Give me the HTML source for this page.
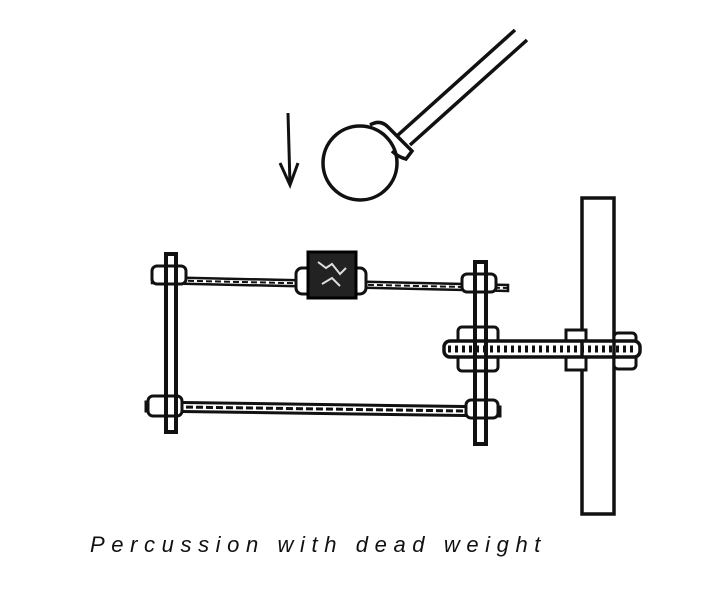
<!DOCTYPE html>
<html><head><style>
html,body{margin:0;padding:0;background:#fff;width:703px;height:597px;overflow:hidden}
.t{position:absolute;left:90px;top:532px;font-family:"Liberation Sans",sans-serif;font-style:italic;font-size:22px;letter-spacing:6.6px;color:#111;white-space:nowrap}
</style></head><body>
<svg width="703" height="597" style="position:absolute;left:0;top:0" fill="none" stroke="#111" stroke-width="3">
<!-- hammer -->
<line x1="398" y1="135" x2="515" y2="30" stroke-width="3.5"/>
<line x1="410" y1="145" x2="527" y2="40" stroke-width="3.5"/>
<circle cx="360" cy="163" r="37" stroke-width="3.5"/>
<path d="M370 125 q10 -6 18 2 l10 10 q8 8 14 14 l-6 8 q-8 -2 -14 -8" stroke-width="3.5"/>
<!-- arrow -->
<line x1="288" y1="113" x2="290" y2="185"/>
<path d="M280 163 L290 185 L298 163"/>
<!-- post -->
<rect x="582" y="198" width="32" height="316" stroke-width="3.5"/>
<!-- top rod -->
<path d="M152 277 L508 285 L508 291 L152 283 Z" fill="#fff" stroke-width="2.5"/>
<line x1="152" y1="280" x2="508" y2="288" stroke-width="2" stroke-dasharray="6 3"/>
<!-- bottom rod -->
<path d="M146 402 L500 407 L500 416 L146 411 Z" fill="#fff" stroke-width="3"/>
<line x1="146" y1="406.5" x2="500" y2="411.5" stroke-width="3" stroke-dasharray="7 3"/>
<!-- nuts -->
<g stroke-width="3" fill="#fff">
<rect x="152" y="266" width="34" height="18" rx="5"/>
<rect x="462" y="274" width="34" height="18" rx="5"/>
<rect x="148" y="396" width="34" height="20" rx="5"/>
<rect x="466" y="400" width="32" height="18" rx="5"/>
<rect x="458" y="327" width="40" height="44" rx="4"/>
<rect x="566" y="330" width="20" height="40"/>
<rect x="614" y="333" width="22" height="36" rx="4"/>
<rect x="296" y="268" width="70" height="26" rx="6"/>
</g>
<!-- vertical rods -->
<rect x="166" y="254" width="10" height="178" fill="none" stroke-width="4"/>
<rect x="475" y="262" width="11" height="182" fill="none" stroke-width="4"/>
<!-- middle threaded rod -->
<rect x="444" y="341" width="196" height="16" rx="6" fill="#fff" stroke-width="3.5"/>
<line x1="448" y1="349" x2="636" y2="349" stroke-width="7" stroke-dasharray="3 4"/>
<line x1="475" y1="341" x2="475" y2="357" stroke-width="4"/>
<line x1="486" y1="341" x2="486" y2="357" stroke-width="4"/>
<line x1="582" y1="341" x2="582" y2="357" stroke-width="3.5"/>
<line x1="614" y1="341" x2="614" y2="357" stroke-width="3.5"/>
<!-- weight -->
<rect x="308" y="252" width="48" height="46" fill="#222" stroke="#000"/>
<path d="M318 262 l8 6 l6 -4 l8 10 l6 -6 M322 284 l10 -6 l8 8" stroke="#ddd" stroke-width="2"/>
</svg>
<div class="t">Percussion with dead weight</div>
</body></html>
